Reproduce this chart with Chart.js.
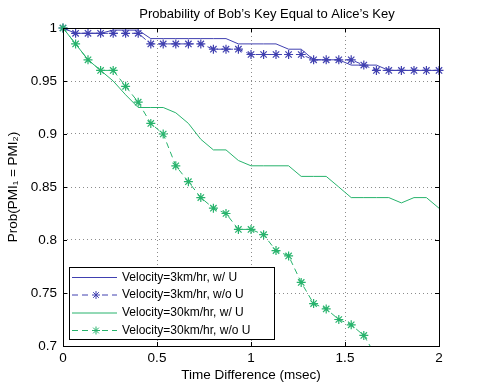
<!DOCTYPE html>
<html>
<head>
<meta charset="utf-8">
<script src="https://cdn.jsdelivr.net/npm/chart.js@4"></script>
<style>
  html, body { margin: 0; background: #fff; }
  #wrap { width: 485px; height: 390px; }
</style>
</head>
<body>
<div id="wrap"><canvas id="keyChart"></canvas></div>
<script>
// -------------------------
//      DATA
// -------------------------

const TIME_MS = [0, 0.067, 0.133, 0.2, 0.267, 0.333, 0.4, 0.467, 0.533, 0.6,
    0.667, 0.733, 0.8, 0.867, 0.933, 1, 1.067, 1.133, 1.2, 1.267,
    1.333, 1.4, 1.467, 1.533, 1.6, 1.667, 1.733, 1.8, 1.867, 1.933, 2];

const V3_WITH_U = [1, 0.995, 0.995, 0.995, 0.998, 0.998, 0.998, 0.99, 0.99, 0.99,
    0.99, 0.99, 0.99, 0.99, 0.985, 0.985, 0.985, 0.985, 0.98, 0.98,
    0.97, 0.97, 0.97, 0.965, 0.965, 0.965, 0.96, 0.96, 0.96, 0.96, 0.96];

const V3_NO_U = [1, 0.995, 0.995, 0.995, 0.995, 0.995, 0.995, 0.985, 0.985, 0.985,
    0.985, 0.985, 0.98, 0.98, 0.98, 0.975, 0.975, 0.975, 0.975, 0.975,
    0.97, 0.97, 0.97, 0.97, 0.965, 0.96, 0.96, 0.96, 0.96, 0.96, 0.96];

const V30_WITH_U = [1, 0.985, 0.97, 0.96, 0.95, 0.937, 0.925, 0.925, 0.925, 0.92,
    0.91, 0.895, 0.885, 0.885, 0.875, 0.87, 0.87, 0.87, 0.87, 0.86,
    0.86, 0.86, 0.85, 0.84, 0.84, 0.84, 0.84, 0.835, 0.84, 0.84, 0.83];

const V30_NO_U = [1, 0.985, 0.97, 0.96, 0.96, 0.945, 0.93, 0.91, 0.9, 0.87,
    0.855, 0.84, 0.83, 0.825, 0.81, 0.81, 0.805, 0.79, 0.785, 0.76,
    0.74, 0.735, 0.725, 0.72, 0.71, 0.69];

const SERIES_LABELS = [
    "Velocity=3km/hr, w/ U",
    "Velocity=3km/hr, w/o U",
    "Velocity=30km/hr, w/ U",
    "Velocity=30km/hr, w/o U"
];

const X_TICKS = [0, 0.5, 1, 1.5, 2];
const Y_TICKS = [0.7, 0.75, 0.8, 0.85, 0.9, 0.95, 1];

const TITLE = "Probability of Bob\u2019s Key Equal to Alice\u2019s Key";
const X_TITLE = "Time Difference (msec)";
const Y_TITLE = "Prob(PMI\u2081 = PMI\u2082)";

// -------------------------

const BLUE = "#4040b0";
const GREEN = "#27b36c";
const FONT = "Liberation Sans, Arial, Helvetica, sans-serif";

function toPoints(ys) {
    return ys.map((y, i) => ({ x: TIME_MS[i], y }));
}

const datasets = [
    { label: SERIES_LABELS[0], data: toPoints(V3_WITH_U), borderColor: BLUE, pointRadius: 0, order: 4 },
    { label: SERIES_LABELS[1], data: toPoints(V3_NO_U), borderColor: BLUE, borderDash: [6, 4],
      pointStyle: "star", pointRadius: 4.5, order: 3 },
    { label: SERIES_LABELS[2], data: toPoints(V30_WITH_U), borderColor: GREEN, pointRadius: 0, order: 2 },
    { label: SERIES_LABELS[3], data: toPoints(V30_NO_U), borderColor: GREEN, borderDash: [6, 4],
      pointStyle: "star", pointRadius: 4.5, order: 1 }
].map(d => Object.assign({
    backgroundColor: "transparent",
    pointBorderColor: d.borderColor,
    pointBackgroundColor: d.borderColor,
    pointBorderWidth: 1.2,
    borderWidth: 1,
    tension: 0,
    clip: { left: 8, top: 8, right: 8, bottom: 0 }
}, d));

// box, inward ticks, title and legend drawn MATLAB-style
const frame = {
    id: "frame",
    afterDraw(chart) {
        const { ctx, chartArea: a, scales } = chart;
        ctx.save();
        ctx.strokeStyle = "#000";
        ctx.lineWidth = 1;
        ctx.strokeRect(a.left + 0.5, a.top + 0.5, a.right - a.left, a.bottom - a.top);

        ctx.beginPath();
        X_TICKS.forEach(v => {
            const x = Math.round(scales.x.getPixelForValue(v)) + 0.5;
            ctx.moveTo(x, a.bottom); ctx.lineTo(x, a.bottom - 4);
            ctx.moveTo(x, a.top); ctx.lineTo(x, a.top + 4);
        });
        Y_TICKS.forEach(v => {
            const y = Math.round(scales.y.getPixelForValue(v)) + 0.5;
            ctx.moveTo(a.left, y); ctx.lineTo(a.left + 4, y);
            ctx.moveTo(a.right, y); ctx.lineTo(a.right - 4, y);
        });
        ctx.stroke();

        // title
        ctx.fillStyle = "#000";
        ctx.font = "13px " + FONT;
        ctx.textAlign = "center";
        ctx.textBaseline = "middle";
        ctx.fillText(TITLE, 267, 14);

        // legend
        ctx.font = "12px " + FONT;
        const lx = 69, ly = 267, lw = 205, lh = 72;
        ctx.fillStyle = "#fff";
        ctx.fillRect(lx, ly, lw, lh);
        ctx.strokeRect(lx + 0.5, ly + 0.5, lw, lh);
        const rows = [277.5, 295, 313, 330.5];
        chart.data.datasets.forEach((ds, i) => {
            const y = rows[i];
            ctx.strokeStyle = ds.borderColor;
            ctx.lineWidth = 1;
            ctx.setLineDash(ds.borderDash || []);
            ctx.beginPath();
            ctx.moveTo(72, y); ctx.lineTo(117, y);
            ctx.stroke();
            ctx.setLineDash([]);
            if (ds.pointStyle) {
                ctx.fillStyle = "#fff";
                ctx.fillRect(90, y - 5, 12, 10);
                ctx.strokeStyle = ds.borderColor;
                Chart.helpers.drawPoint(ctx, { pointStyle: "star", radius: 4, borderWidth: 1.2, rotation: 0 }, 96, y);
            }
            ctx.fillStyle = "#000";
            ctx.textAlign = "left";
            ctx.fillText(ds.label, 122, y);
        });
        ctx.restore();
    }
};

const ctx = document.getElementById("keyChart").getContext("2d");

new Chart(ctx, {
    type: "line",
    data: { datasets },
    plugins: [frame],
    options: {
        responsive: true,
        maintainAspectRatio: false,
        animation: false,
        layout: { padding: { left: 0, top: 28, right: 46, bottom: 0 } },
        plugins: { legend: { display: false }, tooltip: { enabled: false } },
        scales: {
            x: {
                type: "linear",
                min: 0, max: 2,
                afterFit: s => { s.height = 44; },
                afterBuildTicks: s => { s.ticks = X_TICKS.map(v => ({ value: v })); },
                ticks: { color: "#000", padding: 4, font: { family: FONT, size: 13.5 },
                         callback: v => String(v) },
                grid: { drawTicks: false,
                        color: c => (c.tick && (c.tick.value === 0 || c.tick.value === 2)) ? "transparent" : "rgba(0,0,0,0.45)" },
                border: { display: false, dash: [1, 3] },
                title: { display: true, text: X_TITLE, color: "#000", font: { family: FONT, size: 13.5 },
                         padding: { top: 0, bottom: 7 } }
            },
            y: {
                min: 0.7, max: 1,
                afterFit: s => { s.width = 63; },
                afterBuildTicks: s => { s.ticks = Y_TICKS.map(v => ({ value: v })); },
                ticks: { color: "#000", padding: 6, font: { family: FONT, size: 13.5 },
                         callback: v => String(v) },
                grid: { drawTicks: false,
                        color: c => (c.tick && (c.tick.value === 0.7 || c.tick.value === 1)) ? "transparent" : "rgba(0,0,0,0.45)" },
                border: { display: false, dash: [1, 3] },
                title: { display: true, text: Y_TITLE, color: "#000", font: { family: FONT, size: 13.5 },
                         padding: { top: 5, bottom: 0 } }
            }
        }
    }
});
</script>
</body>
</html>
